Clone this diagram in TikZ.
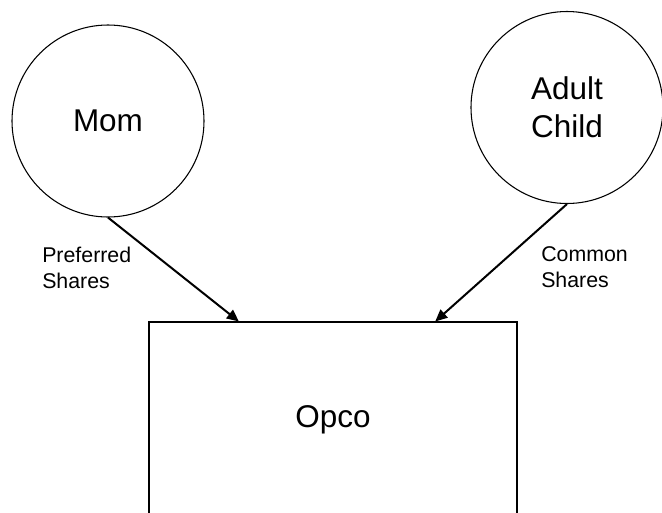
\documentclass[tikz,border=0pt]{standalone}
\usepackage{fontspec}
\setmainfont{Liberation Sans}
\usepackage{tikz}
\usetikzlibrary{arrows.meta,calc}

\begin{document}
\begin{tikzpicture}[x=0.75pt,y=-0.75pt,
    person/.style={draw,circle,line width=0.8pt,minimum size=144pt,inner sep=0pt,align=center,font=\fontsize{23.6}{28.4}\selectfont},
    company/.style={draw,rectangle,line width=0.8pt,minimum width=276pt,minimum height=147pt,font=\fontsize{23.6}{28.4}\selectfont},
    share/.style={inner sep=0pt,anchor=west,align=left,font=\fontsize{16}{19.4}\selectfont},
    own/.style={line width=1.5pt,-{Triangle[length=9pt,width=8pt]}}]
            \useasboundingbox (0,0) rectangle (662,512);
            \node[person] (mom) at (108,121) {Mom};
            \node[person] (child) at (567,107.5) {Adult\\Child};
            \node[company] (opco) at (333,420) {Opco};

            \coordinate (inpref) at ($(opco.north west)!0.245!(opco.north east)$);
            \coordinate (incomm) at ($(opco.north west)!0.777!(opco.north east)$);
            \draw[own] (mom.south) -- (inpref);
            \draw[own] (child.south) -- (incomm);

            \node[share] (pref) at (42,268) {Preferred\\Shares};
            \node[share] (comm) at (541,267) {Common\\Shares};
         \end{tikzpicture}
\end{document}
